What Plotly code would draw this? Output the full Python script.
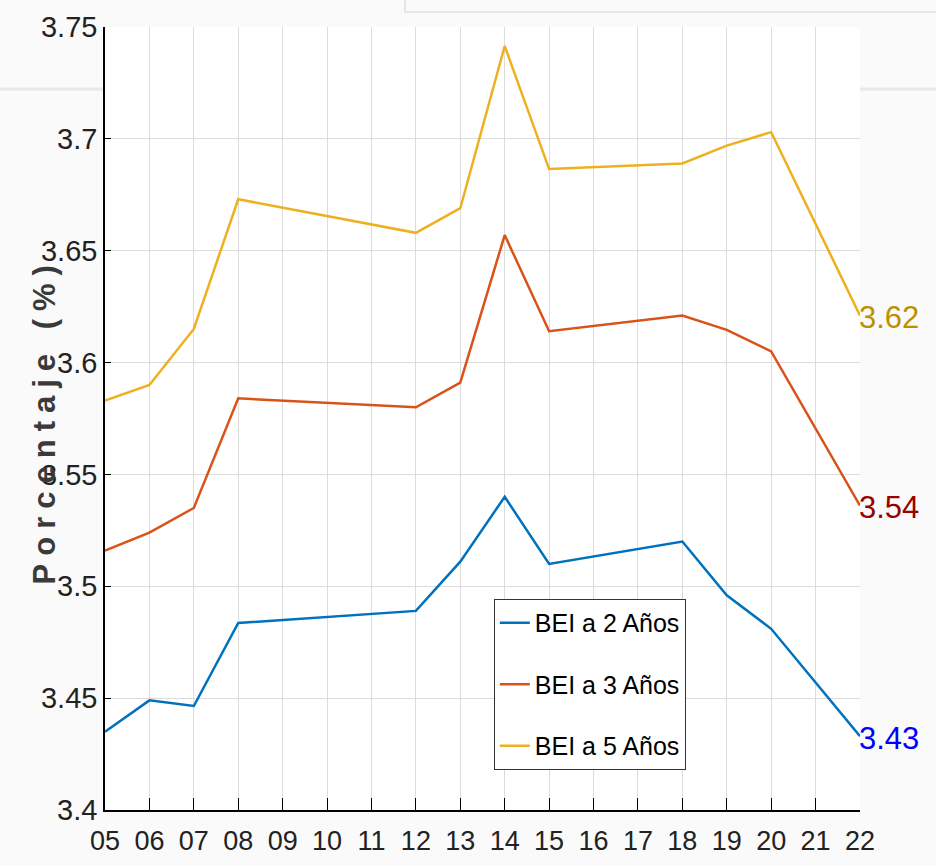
import plotly.graph_objects as go

years = [5, 6, 7, 8, 12, 13, 14, 15, 18, 19, 20, 22]
tick_vals = list(range(5, 23))
tick_labels = ["05", "06", "07", "08", "09", "10", "11", "12", "13", "14", "15",
               "16", "17", "18", "19", "20", "21", "22"]
y_ticks = [3.4, 3.45, 3.5, 3.55, 3.6, 3.65, 3.7, 3.75]
y_tick_labels = ["3.4", "3.45", "3.5", "3.55", "3.6", "3.65", "3.7", "3.75"]

bei_2 = [3.435, 3.449, 3.4465, 3.4836, 3.489, 3.511, 3.540, 3.510, 3.520, 3.496, 3.481, 3.433]
bei_3 = [3.516, 3.524, 3.535, 3.584, 3.580, 3.591, 3.657, 3.614, 3.621, 3.6146, 3.605, 3.536]
bei_5 = [3.583, 3.590, 3.615, 3.673, 3.658, 3.669, 3.7415, 3.6865, 3.689, 3.697, 3.703, 3.621]

series_names = ["BEI a 2 Años", "BEI a 3 Años", "BEI a 5 Años"]
end_labels = ["3.43", "3.54", "3.62"]
line_colors = ["#0072BD", "#D95319", "#EDB120"]
label_colors = ["#0000FF", "#990000", "#BF8F00"]

FONT = "Liberation Sans, Arial, Helvetica, sans-serif"

fig = go.Figure()
for i, (name, vals, col) in enumerate(zip(series_names, [bei_2, bei_3, bei_5], line_colors)):
    fig.add_trace(go.Scatter(x=years, y=vals, mode="lines", name=name,
                             legendgroup=f"g{i}",
                             line=dict(color=col, width=2.5)))

for vals, txt, col in zip([bei_2, bei_3, bei_5], end_labels, label_colors):
    fig.add_annotation(x=years[-1], y=vals[-1], text=txt, showarrow=False,
                       xanchor="left", yanchor="middle", xshift=-3, yshift=-2,
                       font=dict(family=FONT, size=31, color=col))

# y-axis title as rotated annotation with letter spacing
fig.add_annotation(xref="paper", yref="paper", x=-0.08, y=0.497,
                   text='<span style="letter-spacing:8px">Porcentaje (%)</span>',
                   textangle=-90, showarrow=False, xanchor="center", yanchor="middle",
                   font=dict(family=FONT, size=31, color="#3a3a3a", weight="bold"))

# faint background artefacts of the original screenshot
fig.add_shape(type="rect", xref="paper", yref="paper",
              x0=(405 - 105) / 755, x1=1.2, y0=(810 - 12) / 783, y1=1.1,
              line=dict(color="#e6e6e6", width=2), fillcolor="rgba(0,0,0,0)", layer="above")
for xa, xb in [(-0.2, 0.0), (1.0, 1.2)]:
    fig.add_shape(type="line", xref="paper", yref="paper", x0=xa, x1=xb,
                  y0=(810 - 89) / 783, y1=(810 - 89) / 783,
                  line=dict(color="#e9e9e9", width=3), layer="below")

fig.update_layout(
    width=936, height=865,
    margin=dict(l=105, r=76, t=27, b=55),
    paper_bgcolor="#fafafa",
    plot_bgcolor="white",
    font=dict(family=FONT, color="#222"),
    showlegend=True,
    legend=dict(x=0.515, y=0.2695, xanchor="left", yanchor="top",
                bgcolor="white", bordercolor="#333", borderwidth=1,
                font=dict(family=FONT, size=25, color="black"),
                traceorder="grouped", tracegroupgap=26, itemwidth=30),
)
fig.update_xaxes(range=[5, 22], tickmode="array", tickvals=tick_vals, ticktext=tick_labels,
                 showgrid=True, gridcolor="#dcdcdc", gridwidth=1,
                 showline=True, linecolor="black", linewidth=1.5,
                 ticks="inside", ticklen=12, tickcolor="black",
                 tickfont=dict(family=FONT, size=27, color="#222"), ticklabelstandoff=6,
                 zeroline=False, automargin=False)
fig.update_yaxes(range=[3.4, 3.75], tickmode="array", tickvals=y_ticks, ticktext=y_tick_labels,
                 showgrid=True, gridcolor="#dcdcdc", gridwidth=1,
                 showline=True, linecolor="black", linewidth=1.5,
                 ticks="inside", ticklen=6, tickcolor="black",
                 tickfont=dict(family=FONT, size=29, color="#222"),
                 zeroline=False, automargin=False)

fig.write_html("out.html", config={"displayModeBar": False},
               post_script="document.body.style.margin='0px';")
